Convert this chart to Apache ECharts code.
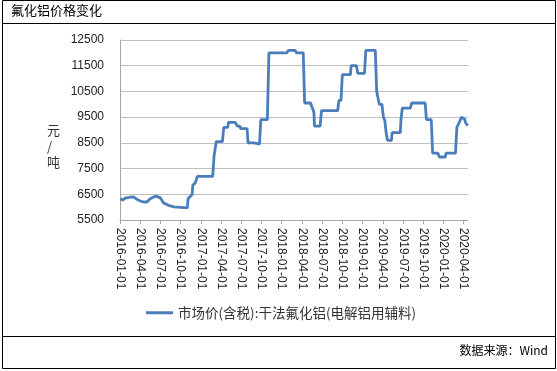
<!DOCTYPE html>
<html>
<head>
<meta charset="utf-8">
<script src="https://cdn.jsdelivr.net/npm/echarts@6/dist/echarts.min.js"></script>
<style>
html,body{margin:0;padding:0;background:#fff;}
#c{width:557px;height:371px;}
</style>
</head>
<body>
<div id="c"></div>
<script>
var chartTitle = '氟化铝价格变化';
var seriesName = '市场价(含税):干法氟化铝(电解铝用辅料)';
var sourceText = '数据来源：Wind';
var yUnit = '元\n/\n吨';

var dates = [
'2016-01-03','2016-01-13','2016-01-25','2016-02-18','2016-03-01','2016-03-16','2016-04-01','2016-04-16',
'2016-05-01','2016-05-16','2016-06-10','2016-06-16','2016-07-01','2016-07-16','2016-08-07','2016-09-01',
'2016-09-07','2016-11-01','2016-11-04','2016-11-22','2016-11-25','2016-12-07','2016-12-16','2017-02-22',
'2017-02-25','2017-02-28','2017-03-07','2017-03-10','2017-04-07','2017-04-13','2017-05-01','2017-05-04',
'2017-06-04','2017-06-13','2017-06-25','2017-06-28','2017-07-13','2017-07-28','2017-08-01','2017-08-28',
'2017-09-01','2017-09-22','2017-09-28','2017-10-28','2017-11-04','2018-01-25','2018-02-01','2018-03-01',
'2018-03-07','2018-04-07','2018-04-13','2018-05-10','2018-05-16','2018-05-25','2018-05-28','2018-06-22',
'2018-06-28','2018-09-10','2018-09-16','2018-09-25','2018-10-01','2018-11-07','2018-11-10','2018-12-04',
'2018-12-10','2019-01-10','2019-01-16','2019-02-26','2019-03-04','2019-03-13','2019-03-16','2019-03-28',
'2019-04-04','2019-04-10','2019-04-16','2019-04-22','2019-05-10','2019-05-13','2019-06-19','2019-06-22',
'2019-06-28','2019-08-04','2019-08-10','2019-10-10','2019-10-16','2019-11-07','2019-11-13','2019-12-07',
'2019-12-13','2020-01-10','2020-01-13','2020-02-24','2020-03-01','2020-03-13','2020-03-22','2020-04-04',
'2020-04-10','2020-04-19'
];
var prices = [
6330,6270,6350,6390,6400,6310,6240,6200,
6200,6330,6430,6440,6360,6160,6070,6010,
5970,5970,6330,6490,6850,6950,7200,7200,
7560,8000,8000,8550,8550,9100,9100,9300,
9300,9150,9150,9050,9050,9050,8500,8500,
8450,8450,9400,9400,12000,12000,12100,12100,
12000,12000,10050,10050,9900,9700,9150,9150,
9750,9750,10150,10150,11150,11150,11500,11500,
11200,11200,12100,12100,10500,10500,10000,10000,
9500,9370,8900,8600,8600,8900,8900,9400,
9850,9850,10050,10050,9400,9400,8100,8100,
7950,7950,8100,8100,9100,9320,9490,9440,
9280,9170
];
var tickLabels = [
'2016-01-01','2016-04-01','2016-07-01','2016-10-01','2017-01-01','2017-04-01',
'2017-07-01','2017-10-01','2018-01-01','2018-04-01','2018-07-01','2018-10-01',
'2019-01-01','2019-04-01','2019-07-01','2019-10-01','2020-01-01','2020-04-01'
];

function monthPos(s) {
  var p = s.split('-');
  var y = +p[0], m = +p[1], d = +p[2];
  var dim = new Date(y, m, 0).getDate();
  return (y - 2016) * 12 + (m - 1) + (d - 1) / dim;
}
var seriesData = dates.map(function (d, i) { return [monthPos(d), prices[i]]; });

var chart = echarts.init(document.getElementById('c'));
var cjk = '"Noto Sans CJK SC", sans-serif';
var num = '"Liberation Sans", Arial, sans-serif';
chart.setOption({
  animation: false,
  backgroundColor: '#fff',
  grid: { left: 120, right: 89, top: 40, bottom: 151, containLabel: false },
  xAxis: {
    type: 'value', min: 0, max: 51.65, interval: 3,
    axisLine: { show: true, lineStyle: { color: '#a6a6a6', width: 1 } },
    axisTick: { show: true, length: 4, lineStyle: { color: '#a6a6a6' } },
    splitLine: { show: false },
    axisLabel: {
      rotate: -90, margin: 8, color: '#222', fontFamily: num, fontSize: 12,
      showMaxLabel: false,
      formatter: function (v) { var k = Math.round(v / 3); return (Math.abs(v - k * 3) < 1e-6 && tickLabels[k]) ? tickLabels[k] : ''; }
    }
  },
  yAxis: {
    type: 'value', min: 5500, max: 12500, interval: 1000,
    axisLine: { show: true, lineStyle: { color: '#a6a6a6', width: 1 } },
    axisTick: { show: false },
    splitLine: { show: true, lineStyle: { color: '#bfbfbf', width: 1 } },
    axisLabel: { color: '#222', fontFamily: num, fontSize: 12, margin: 16, formatter: function (v) { return String(v); } }
  },
  legend: {
    left: 141, top: 301, itemWidth: 27, itemHeight: 3, itemGap: 10, icon: 'rect',
    textStyle: { fontFamily: cjk, fontSize: 13.5, color: '#333' },
    data: [seriesName]
  },
  series: [{
    name: seriesName, type: 'line', data: seriesData, showSymbol: false, symbol: 'none',
    lineStyle: { color: '#4a7ebb', width: 2.8 }, itemStyle: { color: '#4a7ebb' }
  }],
  graphic: [
    { type: 'rect', shape: { x: 2.5, y: 0.5, width: 553, height: 368 }, style: { fill: null, stroke: '#000', lineWidth: 1 }, silent: true },
    { type: 'line', shape: { x1: 2.5, y1: 23.5, x2: 555.5, y2: 23.5 }, style: { stroke: '#000', lineWidth: 1 } },
    { type: 'line', shape: { x1: 2.5, y1: 336.5, x2: 555.5, y2: 336.5 }, style: { stroke: '#000', lineWidth: 1 } },
    { type: 'text', left: 11, top: 4, style: { text: chartTitle, font: '13px ' + cjk, fill: '#000' } },
    { type: 'text', right: 9, top: 344, style: { text: sourceText, font: '12px ' + cjk, fill: '#000' } },
    { type: 'text', left: 47, top: 122, style: { text: yUnit, font: '13px ' + cjk, fill: '#333', lineHeight: 16, align: 'center' } }
  ]
});
</script>
</body>
</html>
